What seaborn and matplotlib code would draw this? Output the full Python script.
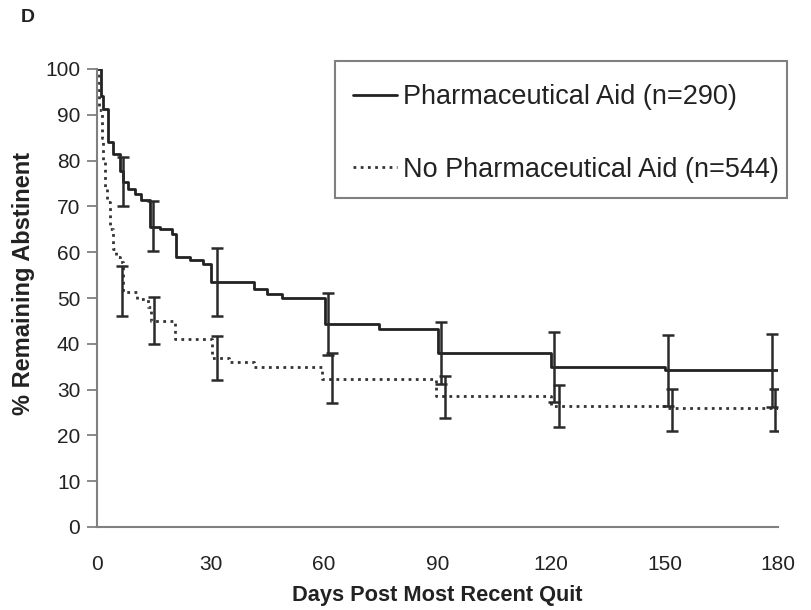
import numpy as np
import pandas as pd
import matplotlib
matplotlib.use("Agg")
import matplotlib.pyplot as plt
from matplotlib.patches import Rectangle
import seaborn as sns

# ---- data ----
pharm_days = [0, 1.0, 1.6, 2.9, 4.2, 6.0, 6.8, 8.2, 10.0, 11.6, 14.0, 16.7, 19.8, 21.0,
              24.6, 28.0, 30.0, 41.6, 45.0, 49.0, 60.3, 74.5, 90.0, 120.0, 150.0, 180.0]
pharm_pct = [100, 94, 91.2, 84, 81.4, 77.7, 75.3, 73.7, 72.6, 71.5, 65.6, 65, 63.9, 58.9,
             58.2, 57.5, 53.6, 52, 50.8, 50.1, 44.4, 43.3, 38, 35, 34.2, 34.2]

nopharm_days = [0, 0.5, 1.2, 1.6, 2.0, 2.6, 3.4, 4.2, 5.0, 6.0, 6.8, 10.7, 13.4, 14.2,
                20.5, 30.3, 35.0, 41.6, 59.5, 89.5, 120.0, 150.5, 180.0]
nopharm_pct = [100, 91, 85, 80, 74, 71, 65, 60.6, 59, 57.8, 51.4, 49.7, 48.1, 44.9,
               41, 37, 36.1, 35, 32.4, 28.5, 26.5, 26.0, 25.8]

pharm_err_days = [6.9, 14.8, 31.7, 61.0, 91.0, 120.8, 151.0, 178.4]
pharm_err_mid = [75.3, 65.6, 53.6, 44.4, 38.0, 35.0, 34.2, 34.2]
pharm_err_lo = [70.0, 60.2, 46.0, 37.6, 31.3, 27.4, 26.4, 26.2]
pharm_err_hi = [80.7, 71.1, 61.0, 51.2, 44.8, 42.6, 42.0, 42.2]

nopharm_err_days = [6.6, 15.0, 31.7, 62.0, 92.0, 122.0, 152.0, 179.2]
nopharm_err_mid = [51.4, 45.0, 37.0, 32.4, 28.5, 26.5, 26.0, 25.8]
nopharm_err_lo = [46.0, 40.0, 32.2, 27.0, 23.8, 21.9, 21.0, 21.0]
nopharm_err_hi = [56.9, 50.3, 41.6, 38.0, 33.0, 31.0, 30.2, 30.2]

x_ticks = [0, 30, 60, 90, 120, 150, 180]
y_ticks = [0, 10, 20, 30, 40, 50, 60, 70, 80, 90, 100]
label_pharm = "Pharmaceutical Aid (n=290)"
label_nopharm = "No Pharmaceutical Aid (n=544)"

sns.set_theme(style="white")
plt.rcParams['font.family'] = ['Liberation Sans', 'DejaVu Sans']

W, H = 811, 610
fig = plt.figure(figsize=(W / 100, H / 100), dpi=100)
ax = fig.add_axes([97/W, (H-527)/H, (778-97)/W, (527-69)/H])

df_p = pd.DataFrame({"day": pharm_days, "pct": pharm_pct})
df_n = pd.DataFrame({"day": nopharm_days, "pct": nopharm_pct})

sns.lineplot(data=df_p, x="day", y="pct", ax=ax, drawstyle="steps-post",
             color="#222222", lw=2.0, label=label_pharm, estimator=None, sort=False)
sns.lineplot(data=df_n, x="day", y="pct", ax=ax, drawstyle="steps-post",
             color="#333333", lw=2.0, linestyle=(0, (1, 1.6)), label=label_nopharm,
             estimator=None, sort=False)

err_col = "#2a2a2a"
for d, m, lo, hi in [(pharm_err_days, pharm_err_mid, pharm_err_lo, pharm_err_hi),
                     (nopharm_err_days, nopharm_err_mid, nopharm_err_lo, nopharm_err_hi)]:
    m = np.array(m); lo = np.array(lo); hi = np.array(hi)
    ax.errorbar(d, m, yerr=[m - lo, hi - m], fmt="none", ecolor=err_col,
                elinewidth=1.8, capsize=4, capthick=1.8, zorder=3)

ax.set_xlim(0, 180)
ax.set_ylim(0, 100)
ax.set_xticks(x_ticks)
ax.set_yticks(y_ticks)
ax.set_xticklabels([str(v) for v in x_ticks])
ax.set_yticklabels([str(v) for v in y_ticks])
ax.tick_params(axis="y", direction="out", length=7, width=1.3, color="#808080",
               pad=5, labelsize=15, labelcolor="#222222", left=True)
ax.tick_params(axis="x", length=0, pad=20, labelsize=15, labelcolor="#222222")

sns.despine(ax=ax)
for s in ["left", "bottom"]:
    ax.spines[s].set_color("#808080")
    ax.spines[s].set_linewidth(1.5)

ax.set_xlabel("Days Post Most Recent Quit", fontsize=15.7, fontweight="bold",
              color="#222222", labelpad=8)
ax.set_ylabel("% Remaining Abstinent", fontsize=17, fontweight="bold",
              color="#222222")
ax.yaxis.set_label_coords((35 - 97) / 681, (527 - 283) / 458)

# legend (frame drawn separately to match the reference box)
leg = ax.legend(loc="upper left", bbox_to_anchor=(330/W, 1 - 61/H),
                bbox_transform=fig.transFigure, borderaxespad=0, fontsize=19.5,
                frameon=False, labelspacing=1.72, borderpad=0.85, handlelength=1.63,
                handletextpad=0.22)
for t in leg.get_texts():
    t.set_color("#222222")
fig.patches.append(Rectangle((335/W, 1 - 198/H), (787-335)/W, (198-61)/H,
                             transform=fig.transFigure, fill=False,
                             edgecolor="#808080", linewidth=1.5, zorder=5))

fig.text(28/W, 1 - 17/H, "D", fontsize=14, fontweight="bold",
         color="#222222", ha="center", va="center")

fig.savefig("out.png", dpi=100, facecolor="white")
